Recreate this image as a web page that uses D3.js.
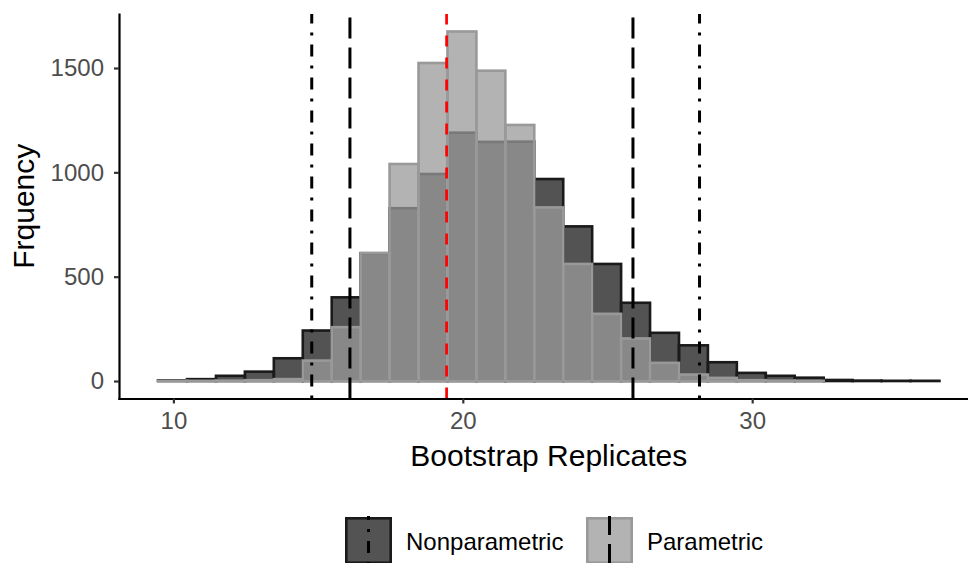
<!DOCTYPE html>
<html><head><meta charset="utf-8">
<script src="https://cdn.jsdelivr.net/npm/d3@7"></script>
<style>
html,body{margin:0;padding:0;background:#fff;overflow:hidden}
svg{display:block;font-family:"Liberation Sans",Arial,Helvetica,sans-serif}
</style>
</head><body>
<svg id="chart" width="968" height="563"></svg>
<script>
// ---- data ----
const binWidth = 1.0;
const binStarts = [9.47,10.47,11.47,12.47,13.47,14.47,15.47,16.47,17.47,18.47,19.47,20.47,21.47,22.47,23.47,24.47,25.47,26.47,27.47,28.47,29.47,30.47,31.47,32.47,33.47,34.47,35.47];
const nonparametric = [3,9,25,45,109,242,401,612,828,992,1190,1146,1147,968,741,561,375,231,171,90,39,25,16,5,2,1,1];
const parametric    = [1,1,2,4,9,98,258,614,1040,1524,1675,1487,1227,832,561,322,204,87,31,15,4,2,1,0,0,0,0];
const observedValue = 19.44;
const nonparametricCI = [14.78, 28.18];
const parametricCI = [16.10, 25.88];
const xTicks = [10, 20, 30];
const yTicks = [0, 500, 1000, 1500];
const seriesNames = ["Nonparametric", "Parametric"];
const xTitle = "Bootstrap Replicates";
const yTitle = "Frquency";

// ---- styles ----
const styles = {
  Nonparametric: {fill:"#1a1a1a", stroke:"#1a1a1a", dash:"3,9,12,9"},
  Parametric:    {fill:"#999999", stroke:"#999999", dash:"21,9"}
};
const seriesValues = {Nonparametric: nonparametric, Parametric: parametric};
const seriesCI = {Nonparametric: nonparametricCI, Parametric: parametricCI};

const panel = {left:119, right:978.5, top:14, bottom:398.5};
const svg = d3.select("#chart");

const xLo = binStarts[0], xHi = binStarts[binStarts.length-1] + binWidth;
const xPad = (xHi - xLo) * 0.05;
const x = d3.scaleLinear().domain([xLo - xPad, xHi + xPad]).range([panel.left, panel.right]);
const yMax = d3.max(nonparametric.concat(parametric));
const y = d3.scaleLinear().domain([-yMax*0.05, yMax*1.05]).range([panel.bottom, panel.top]);

// ---- bars ----
seriesNames.forEach(name => {
  const st = styles[name];
  svg.append("g").selectAll("rect")
    .data(seriesValues[name].map((v,i)=>({x0:binStarts[i], v})))
    .join("rect")
    .attr("x", d => x(d.x0))
    .attr("width", d => x(d.x0 + binWidth) - x(d.x0))
    .attr("y", d => y(d.v))
    .attr("height", d => y(0) - y(d.v))
    .attr("fill", st.fill).attr("fill-opacity", 0.75)
    .attr("stroke", st.stroke).attr("stroke-width", 2.6);
});

// ---- vertical lines ----
const vg = svg.append("g");
seriesNames.forEach(name => {
  seriesCI[name].forEach(v => {
    vg.append("path")
      .attr("d", `M${x(v)},${panel.bottom}L${x(v)},${panel.top}`)
      .attr("stroke", "#000").attr("stroke-width", 3)
      .attr("stroke-dasharray", styles[name].dash).attr("fill","none");
  });
});
vg.append("path")
  .attr("d", `M${x(observedValue)},${panel.bottom}L${x(observedValue)},${panel.top}`)
  .attr("stroke", "#ff0000").attr("stroke-width", 2.7)
  .attr("stroke-dasharray", "11,11").attr("fill","none");

// ---- axes ----
const xAxis = svg.append("g").attr("transform", `translate(0,${panel.bottom})`)
  .call(d3.axisBottom(x).tickValues(xTicks).tickFormat(d3.format("d")).tickSize(5).tickSizeOuter(0).tickPadding(8));
const yAxis = svg.append("g").attr("transform", `translate(${panel.left},0)`)
  .call(d3.axisLeft(y).tickValues(yTicks).tickFormat(d3.format("d")).tickSize(5).tickSizeOuter(0).tickPadding(10));
[xAxis, yAxis].forEach(a => {
  a.select(".domain").attr("stroke", "#000").attr("stroke-width", 2.2).attr("stroke-linecap","square");
  a.selectAll(".tick line").attr("stroke", "#333").attr("stroke-width", 2.2);
  a.selectAll(".tick text").attr("fill", "#4d4d4d").style("font-size", "24px")
    .style("font-family", '"Liberation Sans",Arial,Helvetica,sans-serif');
});

// ---- titles ----
svg.append("text").attr("x", (panel.left + panel.right)/2).attr("y", 466)
  .attr("text-anchor", "middle").style("font-size", "30px").attr("fill", "#000").text(xTitle);
svg.append("text").attr("transform", `translate(34,${(panel.top+panel.bottom)/2}) rotate(-90)`)
  .attr("text-anchor", "middle").style("font-size", "30px").attr("fill", "#000").text(yTitle);

// ---- legend ----
const keySize = 49;
const legendItems = [{name:"Nonparametric", x0:344}, {name:"Parametric", x0:585}];
const legendTop = 516;
legendItems.forEach(item => {
  const st = styles[item.name];
  const g = svg.append("g");
  g.append("rect").attr("x", item.x0).attr("y", legendTop).attr("width", keySize).attr("height", keySize).attr("fill", "#fff");
  g.append("rect").attr("x", item.x0 + 2.3).attr("y", legendTop + 2.3)
    .attr("width", keySize - 4.6).attr("height", keySize - 4.6)
    .attr("fill", st.fill).attr("fill-opacity", 0.75)
    .attr("stroke", st.stroke).attr("stroke-width", 2.6);
  const cx = item.x0 + keySize/2;
  g.append("path").attr("d", `M${cx},${legendTop + keySize}L${cx},${legendTop}`)
    .attr("stroke", "#000").attr("stroke-width", 3).attr("stroke-dasharray", st.dash).attr("fill","none");
  g.append("text").attr("x", item.x0 + keySize + 13).attr("y", 550)
    .style("font-size", "24px").attr("fill", "#000").text(item.name);
});
</script>
</body></html>
